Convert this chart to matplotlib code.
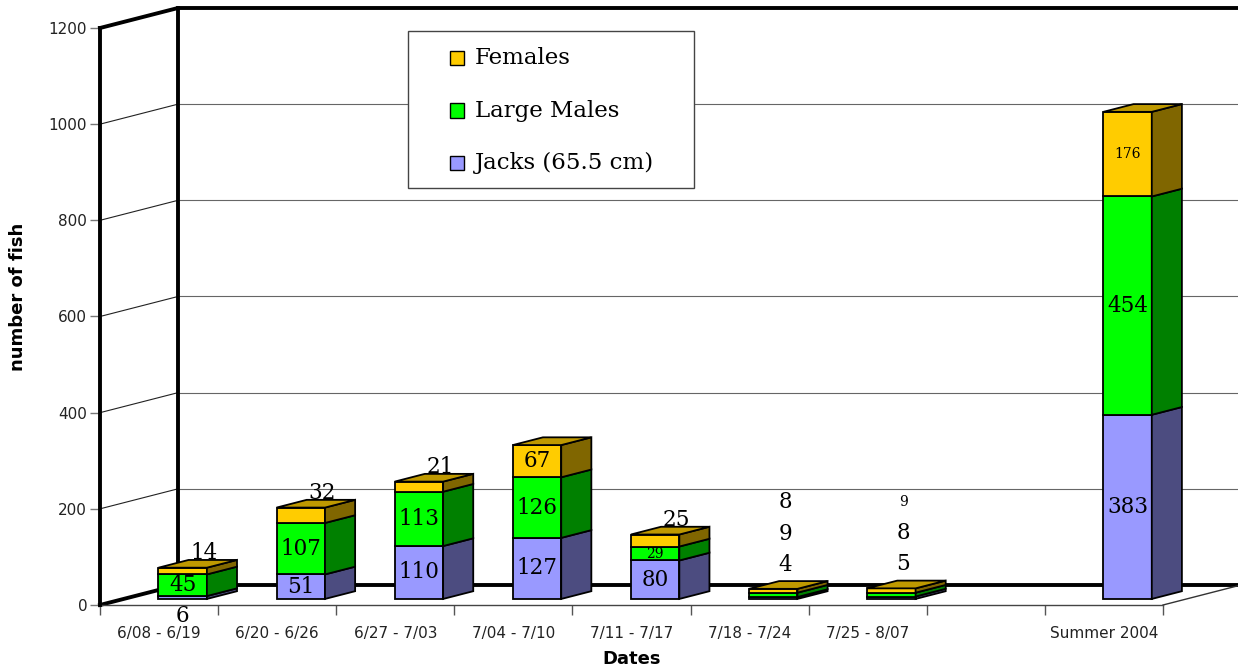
import numpy as np
import matplotlib
matplotlib.use('Agg')
import matplotlib.pyplot as plt
from matplotlib.patches import Rectangle, Polygon

# data
categories = ['6/08 - 6/19', '6/20 - 6/26', '6/27 - 7/03', '7/04 - 7/10',
              '7/11 - 7/17', '7/18 - 7/24', '7/25 - 8/07', '', 'Summer 2004']
jacks = [6, 51, 110, 127, 80, 4, 5, 0, 383]
large_males = [45, 107, 113, 126, 29, 9, 8, 0, 454]
females = [14, 32, 21, 67, 25, 8, 9, 0, 176]
series_names = ['Jacks (65.5 cm)', 'Large Males', 'Females']
yticks = [0, 200, 400, 600, 800, 1000, 1200]

# colours: front / side / top for each series (bottom to top)
FRONT = ['#9999FF', '#00FF00', '#FFCC00']
SIDE = ['#4C4C80', '#008000', '#806600']
TOP = ['#7A7ACC', '#00CC00', '#BF9900']

# fake 3d geometry, in data units
DX, DY = 0.66, 41.6      # depth of the box (walls)
SX, SY = 0.20, 12.6      # bar front offset into the box
BDX, BDY = 0.255, 16.1   # bar depth
W = 0.41                 # bar width
XR = 9.7                 # right edge (past figure edge)

# label fonts; a few labels are small in the original
SERIF = 'DejaVu Serif'
SMALL = {(4, 1), (6, 2), (8, 2)}

W_PX, H_PX = 1238, 672
fig = plt.figure(figsize=(W_PX / 100, H_PX / 100), dpi=100)
ax = fig.add_axes([100 / W_PX, (H_PX - 605) / H_PX, 1063 / W_PX, 577 / H_PX])
ax.set_xlim(0, 9)
ax.set_ylim(0, 1200)
ax.patch.set_visible(False)

# walls / floor
for v in yticks[1:-1]:
    ax.plot([0, DX], [v, v + DY], color='#222222', lw=0.8, zorder=1, clip_on=False)
    ax.plot([DX, XR], [v + DY, v + DY], color='#666666', lw=0.8, zorder=1, clip_on=False)
thick = dict(color='black', lw=2.8, zorder=2, clip_on=False, solid_capstyle='projecting')
ax.plot([0, DX, XR], [0, DY, DY], **thick)
ax.plot([DX, DX], [DY, 1200 + DY], **thick)
ax.plot([0, DX, XR], [1200, 1200 + DY, 1200 + DY], **thick)
ax.plot([9, 9 + DX], [0, DY], color='#333333', lw=1.0, zorder=2, clip_on=False)

# bars
for i in range(len(categories)):
    vals = [jacks[i], large_males[i], females[i]]
    total = sum(vals)
    if total == 0:
        continue
    x0 = i + 0.5 - W / 2 + SX
    xc = x0 + W / 2
    base = SY
    for j, v in enumerate(vals):
        ax.add_patch(Rectangle((x0, base), W, v, fc=FRONT[j], ec='black', lw=1.3,
                               zorder=4, clip_on=False))
        ax.add_patch(Polygon([(x0 + W, base), (x0 + W + BDX, base + BDY),
                              (x0 + W + BDX, base + v + BDY), (x0 + W, base + v)],
                             closed=True, fc=SIDE[j], ec='black', lw=1.3, zorder=4, clip_on=False))
        # value label
        size = 10 if (i, j) in SMALL else 15.5
        if total < 30:
            tx, ty = xc + 0.1, total + SY + 50 + 65 * j
        elif j == 2 and v < 35:
            tx, ty = xc + 0.18, total + SY + 30
        elif j == 0 and v < 10:
            tx, ty = xc, -23
        else:
            tx, ty = xc, base + v / 2
        ax.text(tx, ty, str(v), ha='center', va='center', fontsize=size,
                family=SERIF, color='black', zorder=6, clip_on=False)
        base += v
    ax.add_patch(Polygon([(x0, base), (x0 + BDX, base + BDY),
                          (x0 + W + BDX, base + BDY), (x0 + W, base)],
                         closed=True, fc=TOP[2], ec='black', lw=1.3, zorder=5, clip_on=False))

# axes styling
for s in ['top', 'right']:
    ax.spines[s].set_visible(False)
ax.spines['left'].set_linewidth(2.8)
ax.spines['left'].set_capstyle('projecting')
ax.spines['bottom'].set_linewidth(1.0)
ax.spines['bottom'].set_color('#444444')
ax.spines['left'].set_zorder(3)

ax.set_yticks(yticks)
ax.set_yticklabels([str(t) for t in yticks])
ax.tick_params(axis='y', direction='out', length=7.2, width=1, color='#777777',
               labelsize=11, labelcolor='#222222', pad=2)
ax.set_xticks(np.arange(0, 10))
ax.set_xticklabels([])
ax.set_xticks(np.arange(len(categories)) + 0.5, minor=True)
ax.set_xticklabels(categories, minor=True)
ax.tick_params(axis='x', which='major', direction='out', length=7, width=1, color='#555555')
ax.tick_params(axis='x', which='minor', length=0, labelsize=11, labelcolor='#222222', pad=15)

ax.set_ylabel('number of fish', fontsize=13, fontweight='bold')
ax.yaxis.set_label_coords(-0.069, 0.534)
ax.set_xlabel('Dates', fontsize=13, fontweight='bold')
ax.xaxis.set_label_coords(0.5, -0.078)


# legend box drawn in figure pixels
def fx(px):
    return px / W_PX


def fy(py):
    return 1 - py / H_PX


fig.patches.append(Rectangle((fx(408), fy(188)), fx(694) - fx(408), fy(31) - fy(188),
                             transform=fig.transFigure, fc='white', ec='#444444', lw=1.0,
                             zorder=10))
for k, j in enumerate([2, 1, 0]):
    yc = 58 + 52.5 * k
    fig.patches.append(Rectangle((fx(450), fy(yc + 7)), fx(14), 14 / H_PX,
                                 transform=fig.transFigure, fc=FRONT[j], ec='black', lw=1.0,
                                 zorder=11))
    fig.text(fx(475), fy(yc), series_names[j], ha='left', va='center', fontsize=16.5,
             family=SERIF, zorder=12)

fig.savefig('out.png', dpi=100, facecolor='white')
